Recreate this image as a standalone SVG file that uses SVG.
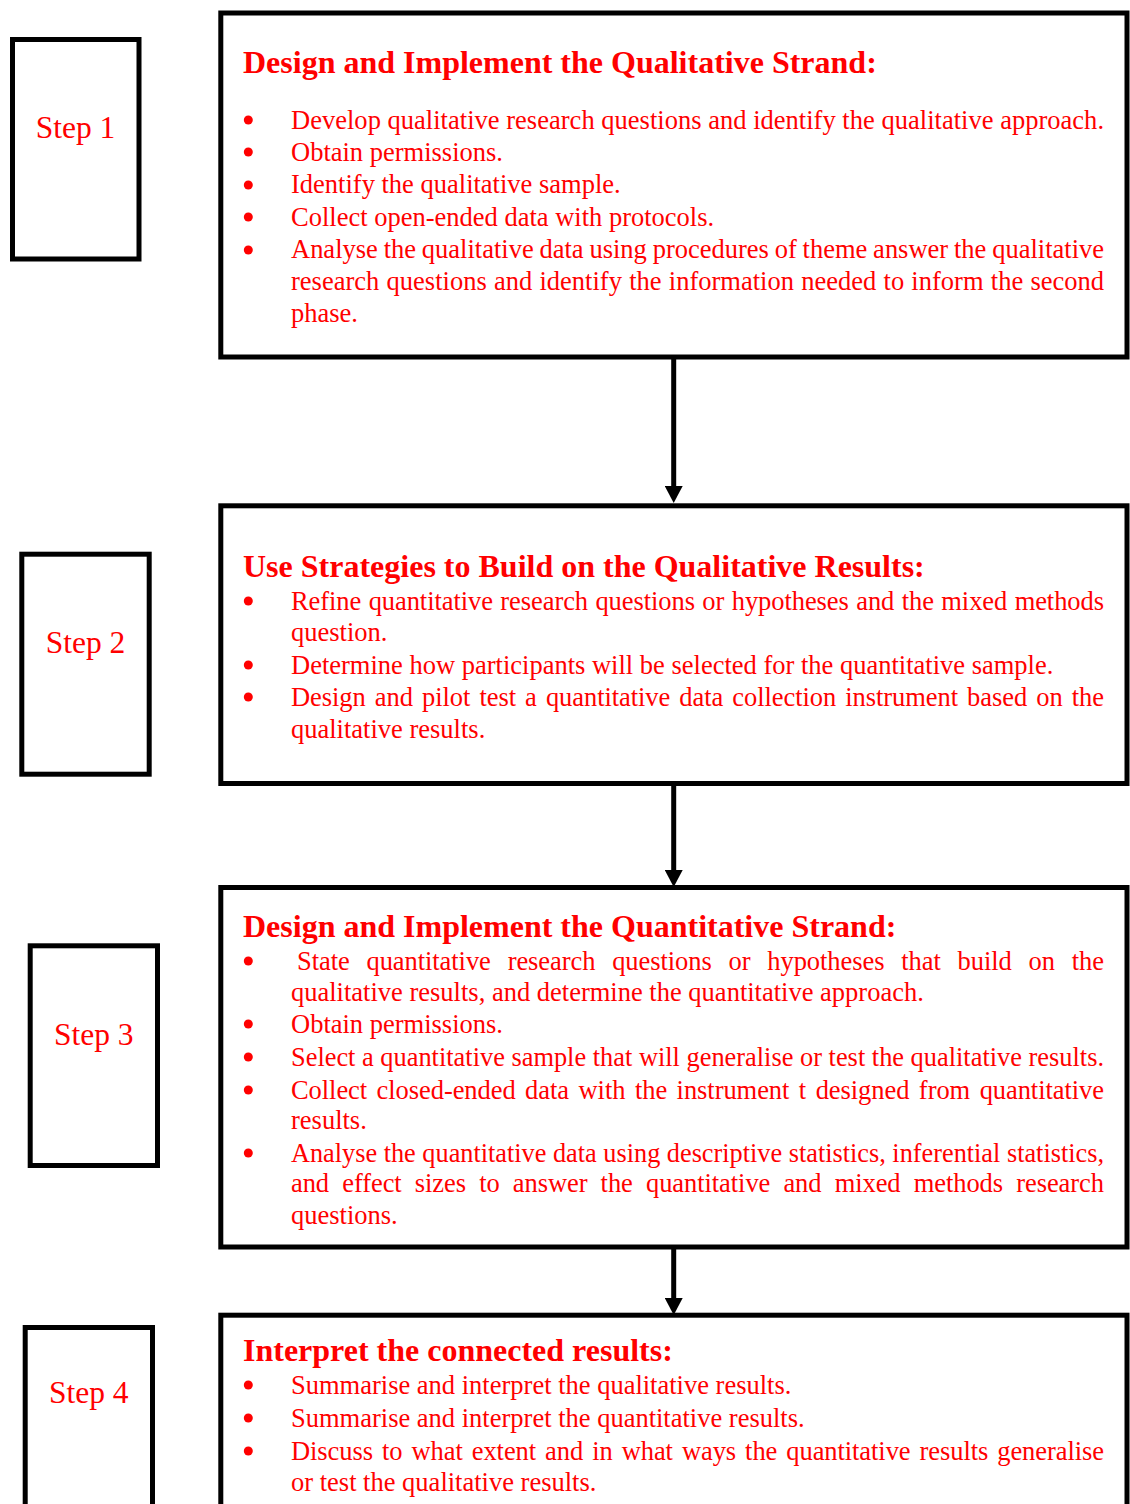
<svg xmlns="http://www.w3.org/2000/svg" width="1130" height="1504" viewBox="0 0 1130 1504">
  <style>
    .box { fill: #ffffff; stroke: #000000; stroke-width: 5; }
    .step { font-family: "Liberation Serif", "Times New Roman", serif; font-size: 31.5px; fill: #ff0000; text-anchor: middle; }
    .head { font-family: "Liberation Serif", "Times New Roman", serif; font-size: 32px; font-weight: bold; fill: #ff0000; }
    .body { font-family: "Liberation Serif", "Times New Roman", serif; font-size: 26.5px; fill: #ff0000; }
    .dot { fill: #ff0000; }
    .link { stroke: #000000; stroke-width: 5; fill: none; }
  </style>
  <defs>
    <marker id="head" markerUnits="userSpaceOnUse" viewBox="0 0 17 18" markerWidth="17" markerHeight="18" refX="0" refY="9" orient="auto">
      <path d="M0,0 L17,9 L0,18 Z" fill="#000000"/>
    </marker>
  </defs>
  <rect width="1130" height="1504" fill="#ffffff"/>

  <!-- step labels -->
  <g id="step1">
    <rect class="box" x="12.5" y="39.5" width="126.5" height="219.5"/>
    <text class="step" x="75.5" y="138.3">Step 1</text>
  </g>
  <g id="step2">
    <rect class="box" x="21.8" y="554.2" width="127.4" height="220"/>
    <text class="step" x="85.5" y="653.3">Step 2</text>
  </g>
  <g id="step3">
    <rect class="box" x="30.2" y="945.8" width="127.3" height="219.7"/>
    <text class="step" x="93.8" y="1045">Step 3</text>
  </g>
  <g id="step4">
    <rect class="box" x="25.2" y="1327.5" width="127.3" height="220"/>
    <text class="step" x="88.8" y="1403.3">Step 4</text>
  </g>

  <!-- phase 1: qualitative strand -->
  <g id="qual-strand">
    <rect class="box" x="220.8" y="13" width="906.2" height="344"/>
    <text class="head" x="243" y="73">Design and Implement the Qualitative Strand:</text>
    <circle class="dot" cx="248.3" cy="120" r="4.5"/>
    <circle class="dot" cx="248.3" cy="152" r="4.5"/>
    <circle class="dot" cx="248.3" cy="185" r="4.5"/>
    <circle class="dot" cx="248.3" cy="217" r="4.5"/>
    <circle class="dot" cx="248.3" cy="250" r="4.5"/>
    <text class="body" x="291" y="128.5" textLength="813" lengthAdjust="spacing">Develop qualitative research questions and identify the qualitative approach.</text>
    <text class="body" x="291" y="160.5">Obtain permissions.</text>
    <text class="body" x="291" y="193">Identify the qualitative sample.</text>
    <text class="body" x="291" y="225.5">Collect open-ended data with protocols.</text>
    <text class="body" x="291" y="258" word-spacing="-0.8" textLength="813" lengthAdjust="spacing">Analyse the qualitative data using procedures of theme answer the qualitative</text>
    <text class="body" x="291" y="289.5" word-spacing="0.6" textLength="813" lengthAdjust="spacing">research questions and identify the information needed to inform the second</text>
    <text class="body" x="291" y="321.5">phase.</text>
  </g>

  <!-- phase 2: building on qualitative results -->
  <g id="build-strategies">
    <rect class="box" x="220.8" y="505.8" width="906.2" height="277.7"/>
    <text class="head" x="243" y="577">Use Strategies to Build on the Qualitative Results:</text>
    <circle class="dot" cx="248.3" cy="601" r="4.5"/>
    <circle class="dot" cx="248.3" cy="665" r="4.5"/>
    <circle class="dot" cx="248.3" cy="697" r="4.5"/>
    <text class="body" x="291" y="609.5" word-spacing="0.9" textLength="813" lengthAdjust="spacing">Refine quantitative research questions or hypotheses and the mixed methods</text>
    <text class="body" x="291" y="640.5">question.</text>
    <text class="body" x="291" y="673.5">Determine how participants will be selected for the quantitative sample.</text>
    <text class="body" x="291" y="705.5" word-spacing="2.6" textLength="813" lengthAdjust="spacing">Design and pilot test a quantitative data collection instrument based on the</text>
    <text class="body" x="291" y="737.5">qualitative results.</text>
  </g>

  <!-- phase 3: quantitative strand -->
  <g id="quant-strand">
    <rect class="box" x="220.8" y="887.5" width="906.2" height="359.5"/>
    <text class="head" x="243" y="937">Design and Implement the Quantitative Strand:</text>
    <circle class="dot" cx="248.3" cy="961" r="4.5"/>
    <circle class="dot" cx="248.3" cy="1024" r="4.5"/>
    <circle class="dot" cx="248.3" cy="1057" r="4.5"/>
    <circle class="dot" cx="248.3" cy="1090" r="4.5"/>
    <circle class="dot" cx="248.3" cy="1153" r="4.5"/>
    <text class="body" x="297" y="969.5" word-spacing="10.3" textLength="807" lengthAdjust="spacing">State quantitative research questions or hypotheses that build on the</text>
    <text class="body" x="291" y="1000.5">qualitative results, and determine the quantitative approach.</text>
    <text class="body" x="291" y="1032.5">Obtain permissions.</text>
    <text class="body" x="291" y="1065.5" textLength="813" lengthAdjust="spacingAndGlyphs">Select a quantitative sample that will generalise or test the qualitative results.</text>
    <text class="body" x="291" y="1098.5" word-spacing="3" textLength="813" lengthAdjust="spacing">Collect closed-ended data with the instrument t designed from quantitative</text>
    <text class="body" x="291" y="1128.5">results.</text>
    <text class="body" x="291" y="1161.5" textLength="813" lengthAdjust="spacingAndGlyphs">Analyse the quantitative data using descriptive statistics, inferential statistics,</text>
    <text class="body" x="291" y="1191.5" word-spacing="6.6" textLength="813" lengthAdjust="spacing">and effect sizes to answer the quantitative and mixed methods research</text>
    <text class="body" x="291" y="1223.5">questions.</text>
  </g>

  <!-- phase 4: interpretation -->
  <g id="interpret">
    <rect class="box" x="220.8" y="1315.2" width="906.2" height="240"/>
    <text class="head" x="243" y="1361">Interpret the connected results:</text>
    <circle class="dot" cx="248.3" cy="1385" r="4.5"/>
    <circle class="dot" cx="248.3" cy="1418" r="4.5"/>
    <circle class="dot" cx="248.3" cy="1451" r="4.5"/>
    <text class="body" x="291" y="1393.5">Summarise and interpret the qualitative results.</text>
    <text class="body" x="291" y="1426.5">Summarise and interpret the quantitative results.</text>
    <text class="body" x="291" y="1459.5" word-spacing="2.5" textLength="813" lengthAdjust="spacing">Discuss to what extent and in what ways the quantitative results generalise</text>
    <text class="body" x="291" y="1490.5">or test the qualitative results.</text>
  </g>

  <!-- connectors between phases -->
  <g id="connectors">
    <line class="link" x1="673.7" y1="357" x2="673.7" y2="486" marker-end="url(#head)"/>
    <line class="link" x1="673.7" y1="783.5" x2="673.7" y2="870" marker-end="url(#head)"/>
    <line class="link" x1="673.7" y1="1247" x2="673.7" y2="1298" marker-end="url(#head)"/>
  </g>
</svg>
